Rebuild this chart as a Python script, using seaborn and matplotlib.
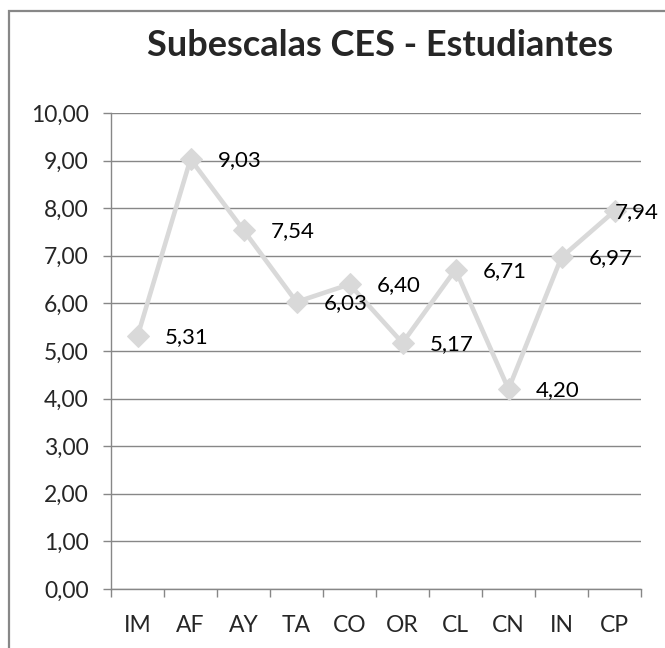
import matplotlib
matplotlib.use("Agg")
import matplotlib.pyplot as plt
from matplotlib.patches import Rectangle
from matplotlib.ticker import FixedLocator, FuncFormatter
import seaborn as sns
import pandas as pd
import numpy as np

# datos de las subescalas
subescalas = ["IM", "AF", "AY", "TA", "CO", "OR", "CL", "CN", "IN", "CP"]
puntajes = [5.31, 9.03, 7.54, 6.03, 6.40, 5.17, 6.71, 4.20, 6.97, 7.94]
titulo = "Subescalas CES - Estudiantes"

sns.set_style("white")
plt.rcParams['font.family'] = ['Lato', 'DejaVu Sans']

df = pd.DataFrame({"sub": subescalas, "val": puntajes})

fig = plt.figure(figsize=(6.65, 6.48), dpi=100)
ax = fig.add_axes([111 / 665, 1 - 589 / 648, (641 - 111) / 665, (589 - 113) / 648])

# borde del grafico (recortado como en la imagen)
fig.patches.append(Rectangle((8.5 / 665, -0.2), 1.5, 1.2 - 11 / 648,
                             transform=fig.transFigure, fill=False,
                             edgecolor="#878787", linewidth=1.6, zorder=0))

sns.lineplot(data=df, x="sub", y="val", ax=ax, color="#d9d9d9", linewidth=3.3,
             marker="D", markersize=11.5, markeredgecolor="#d9d9d9", sort=False)

# etiquetas de datos a la derecha (la ultima se corre para que quepa)
for i, v in enumerate(puntajes):
    dx = 27 if i < len(puntajes) - 1 else 0
    ax.annotate(f"{v:.2f}".replace(".", ","), (i, v), xytext=(dx, -1),
                textcoords="offset pixels", ha="left", va="center",
                fontsize=16, color="black")

ax.set_xlim(-0.5, len(subescalas) - 0.5)
ax.set_ylim(0, 10)
ax.set_yticks(np.arange(0, 11, 1))
ax.yaxis.set_major_formatter(FuncFormatter(lambda y, p: f"{y:.2f}".replace(".", ",")))
ax.grid(axis="y", color="#878787", linewidth=1.0)
ax.set_axisbelow(True)

ax.set_xticks(range(len(subescalas)))
ax.set_xticklabels(subescalas)
ax.xaxis.set_minor_locator(FixedLocator(np.arange(-0.5, len(subescalas), 1)))
ax.tick_params(axis="x", which="major", length=0, pad=19, labelsize=16.5)
ax.tick_params(axis="x", which="minor", length=6, width=1, color="#878787", direction="out", bottom=True)
ax.tick_params(axis="y", length=6, width=1, color="#878787", direction="out", left=True, pad=10, labelsize=16.5)

for s in ["top", "right"]:
    ax.spines[s].set_visible(False)
for s in ["left", "bottom"]:
    ax.spines[s].set_color("#878787")
    ax.spines[s].set_linewidth(1.0)

ax.set_xlabel("")
ax.set_ylabel("")
fig.text(380 / 665, 1 - 45 / 648, titulo, ha="center", va="center",
         fontsize=26, fontweight="bold")

fig.savefig("out.png", dpi=100)
